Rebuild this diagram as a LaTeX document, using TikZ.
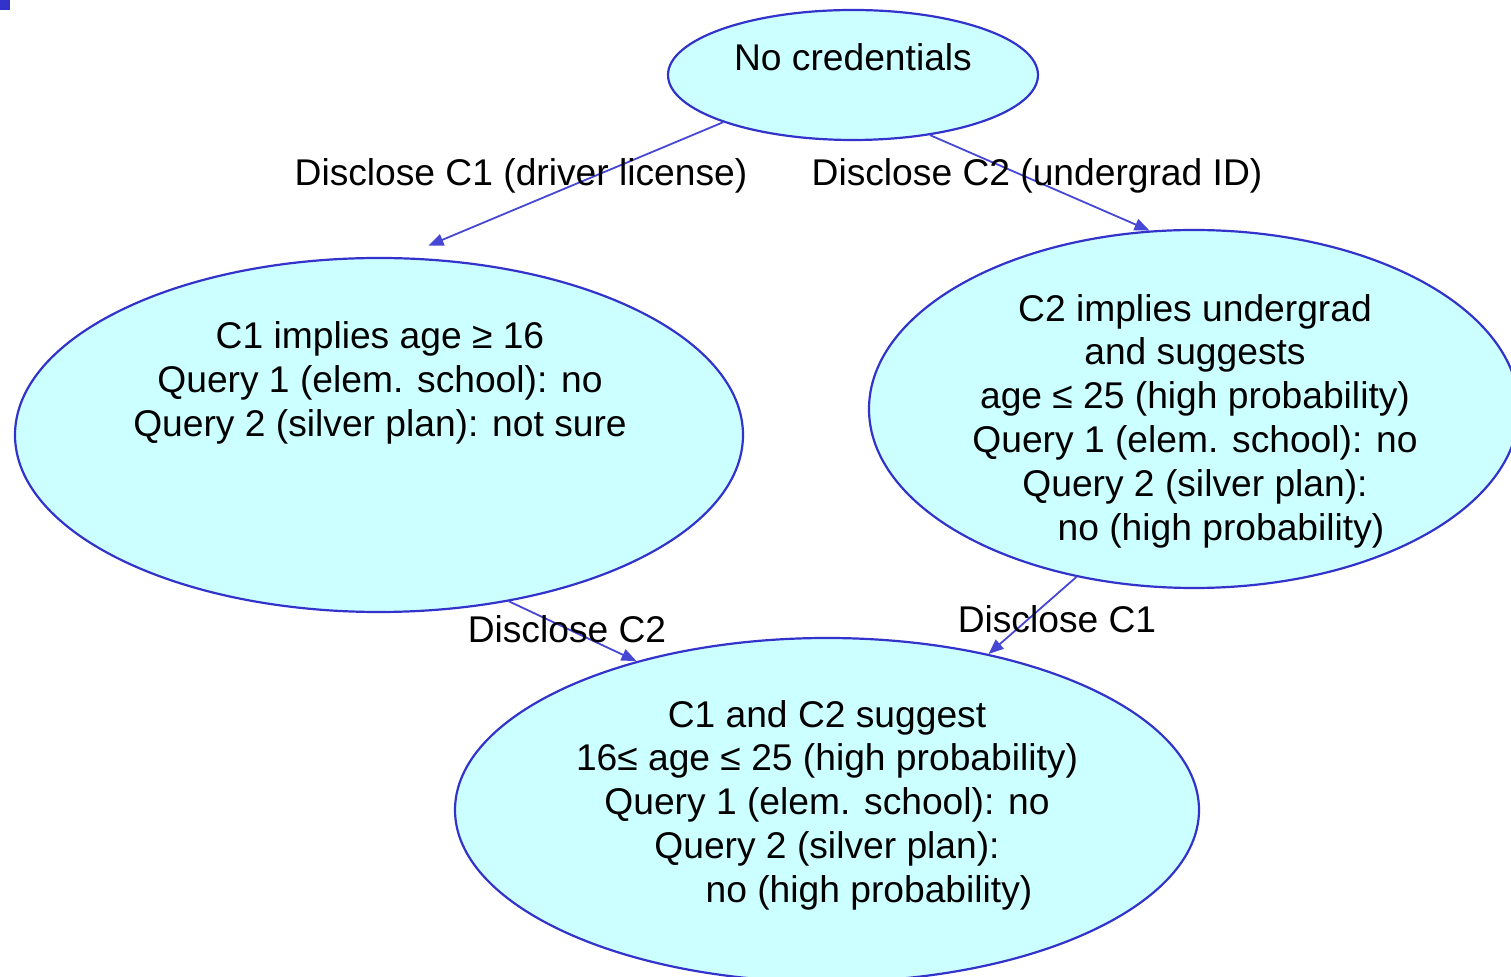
\documentclass[tikz,border=0pt]{standalone}
\usepackage{fontspec}
\setmainfont{Liberation Sans}
\usetikzlibrary{arrows.meta,shapes.geometric}
\definecolor{nodefill}{HTML}{CCFFFF}
\definecolor{nodeline}{HTML}{3333CC}
\definecolor{edgeline}{HTML}{4747D6}

\begin{document}
\begin{tikzpicture}[x=0.5pt,y=-0.5pt]
\tikzstyle{state} = [ellipse, draw=nodeline, line width=1.1pt, fill=nodefill, inner sep=0pt]
\tikzstyle{txt} = [align=center, font=\fontsize{18.6}{21.9}\selectfont, inner sep=0pt]
\tikzstyle{line} = [draw=edgeline, line width=0.9pt, -{Triangle[length=7.5pt,width=6pt]}];
\useasboundingbox (0,0) rectangle (1511,977);
\clip (0,0) rectangle (1511,977);
\fill[nodeline] (0,0) rectangle (10,10);
% states
\node [state, minimum width=185pt, minimum height=65pt] (none) at (853,75) {};
\node [state, minimum width=364pt, minimum height=177pt] (drv) at (379,435) {};
\node [state, minimum width=325pt, minimum height=179pt] (ugr) at (1194,409) {};
\node [state, minimum width=372pt, minimum height=172pt] (both) at (827,810) {};
% texts
\node [txt] (noneTxt) at (853,57) {No credentials};
\node [txt] (drvTxt) at (380,383) {C1 implies age ≥ 16\\
Query 1 (elem. school): no\\
Query 2 (silver plan): not sure};
\node [txt] (ugrTxt) at (1195,421) {C2 implies undergrad\\
and suggests\\
age ≤ 25 (high probability)\\
Query 1 (elem. school): no\\
Query 2 (silver plan):\\
\hspace*{26pt}no (high probability)};
\node [txt] (bothTxt) at (827,805) {C1 and C2 suggest\\
16≤ age ≤ 25 (high probability)\\
Query 1 (elem. school): no\\
Query 2 (silver plan):\\
\hspace*{42pt}no (high probability)};
% transitions
\path [line, shorten >=15pt] (none.200) -- (drv.83);
\path [line] (none.-38) -- (ugr.104);
\path [line] (drv.-52) -- (both.142);
\path [line] (ugr.235) -- (both.44);
\node [txt] (lblC1) at (521,176) {Disclose C1 (driver license)};
\node [txt] (lblC2) at (1037,176) {Disclose C2 (undergrad ID)};
\node [txt] (lblDrvC2) at (567,629) {Disclose C2};
\node [txt] (lblUgrC1) at (1057,619) {Disclose C1};
\end{tikzpicture}
\end{document}
